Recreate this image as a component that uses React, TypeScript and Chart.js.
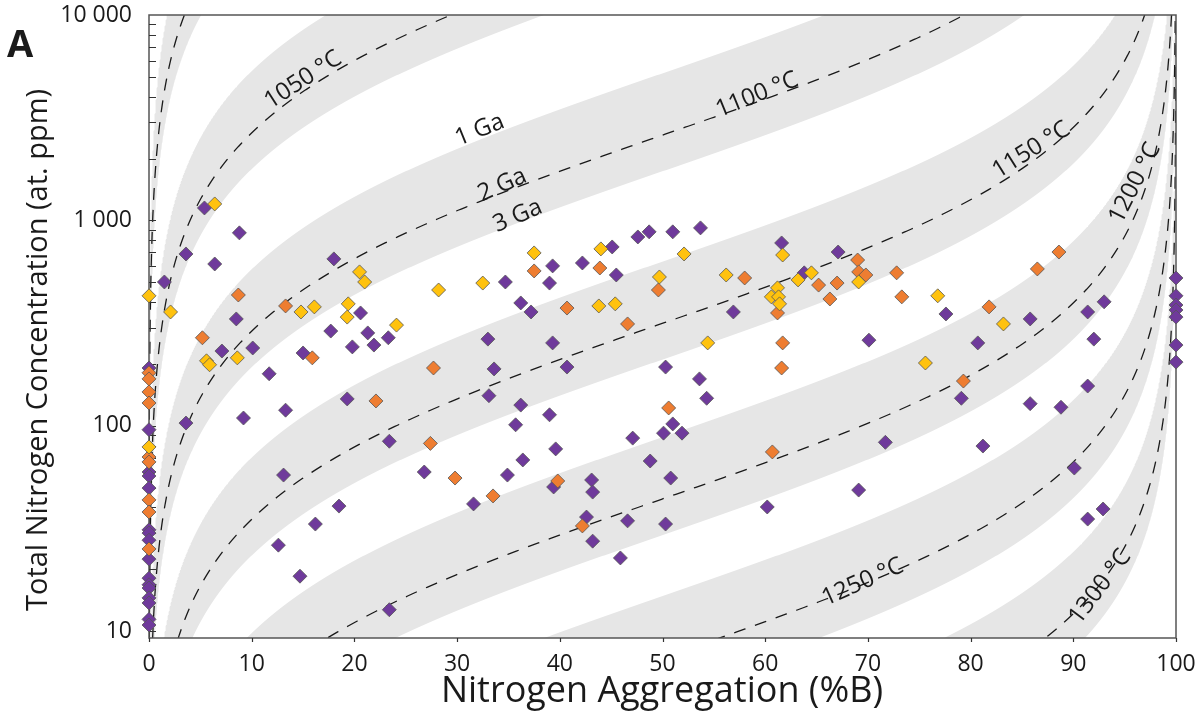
import React, { useEffect, useRef } from "react";
import { Chart, registerables } from "chart.js";

Chart.register(...registerables);

const W = 1196;
const H = 723;
const FONT = "'Open Sans', 'DejaVu Sans', sans-serif";
const INK = "#1a1a1a";

// ---- axes ----
const xTicks = [0, 10, 20, 30, 40, 50, 60, 70, 80, 90, 100];
const yTicks = [10, 100, 1000, 10000];
const yTickLabels = ["10", "100", "1 000", "10 000"];
const yMin = 9.25;
const yMax = 10000;
const xTitle = "Nitrogen Aggregation (%B)";
const yTitle = "Total Nitrogen Concentration (at. ppm)";
const panelLetter = "A";

// ---- isotherms (second-order aggregation law: N = N50 * B/(1-B), N50 scales with 1/age) ----
const isothermTemps = [1000, 1050, 1100, 1150, 1200, 1250, 1300];
const isothermN50At2Ga = [280000, 24000, 2600, 315, 44, 7.4, 1.35];
const curveAge = 2; // Ga, dashed line
const bandUpperAge = 1; // Ga
const bandLowerAge = 3; // Ga

// ---- diamonds: [%B, N at. ppm] ----
const purplePoints: [number, number][] = [
  [0, 191], [0, 95.6], [0, 59.5], [0, 56.9], [0, 49.7], [0, 31.1], [0, 30.0], [0, 27.7],
  [0, 22.4], [0, 18.1], [0, 16.8], [0, 16.2], [0, 14.5], [0, 13.7], [0, 11.4], [0, 10.7],
  [100, 524], [100, 429], [100, 387], [100, 366], [100, 338], [100, 247], [100, 204],
  [5.4, 1149], [8.8, 869], [3.6, 686], [6.4, 613], [1.5, 501], [8.5, 331], [7.1, 231],
  [17.7, 289], [10.1, 239], [15.0, 226], [11.7, 179], [13.3, 119], [9.2, 109], [3.6, 103],
  [13.1, 57.5], [18.5, 40.6], [16.2, 33.2], [12.6, 26.2], [14.7, 18.5],
  [18.0, 649], [20.6, 354], [21.3, 283], [23.3, 268], [21.9, 247], [19.8, 242], [19.3, 135],
  [34.7, 501], [39.3, 600], [39.0, 495], [36.2, 396], [37.2, 358], [33.0, 264], [39.3, 253],
  [33.6, 189], [33.1, 140], [36.2, 126],
  [23.4, 84], [26.8, 59.5], [31.6, 41.6], [34.9, 57.5], [36.4, 68.1], [39.6, 77.1], [39.4, 50.3],
  [35.7, 101], [39.0, 113], [23.4, 12.7],
  [42.2, 620], [45.1, 742], [45.5, 542], [47.6, 830], [48.7, 879], [51.0, 879], [53.7, 919],
  [56.9, 358], [40.7, 193], [50.3, 193], [53.6, 169], [54.3, 136],
  [61.6, 776], [63.8, 555], [67.1, 701], [70.1, 261],
  [51.0, 102], [50.1, 92], [51.9, 92], [47.1, 87], [48.8, 67.3], [43.1, 54.4], [43.2, 47.5],
  [50.8, 55.6], [42.6, 35.9], [46.6, 34.4], [50.3, 33.2], [43.2, 27.4], [45.9, 22.7],
  [60.2, 40.2], [69.1, 48.6],
  [77.6, 350], [85.8, 331], [91.4, 358], [93.0, 401], [80.7, 253], [92.0, 264], [79.1, 136],
  [91.4, 156], [85.8, 128], [88.8, 123], [71.7, 83], [81.2, 79.6], [90.1, 62.2], [92.9, 39.3],
  [91.4, 35.1],
];

const orangePoints: [number, number][] = [
  [0, 181], [0, 169], [0, 146], [0, 129], [0, 70.4], [0, 66.6], [0, 43.5], [0, 38.0], [0, 25.1],
  [8.7, 433], [13.3, 383], [5.2, 268], [15.9, 214], [22.1, 132], [37.5, 567], [27.7, 191],
  [27.4, 82], [29.8, 55.6], [33.5, 45.5], [39.8, 53.8], [43.9, 586], [49.6, 458], [40.7, 374],
  [46.6, 313], [58.0, 524], [50.6, 122], [61.2, 354], [65.2, 484], [66.3, 414], [67.0, 495],
  [69.0, 641], [69.1, 561], [69.8, 542], [61.7, 253], [61.6, 191], [42.2, 32.5], [60.7, 74.5],
  [72.8, 555], [73.3, 424], [88.6, 701], [86.5, 580], [81.8, 379], [79.3, 165],
];

const yellowPoints: [number, number][] = [
  [0, 429], [0, 78.8], [6.4, 1202], [2.1, 358], [14.8, 358], [16.1, 379], [5.6, 207], [5.9, 198],
  [8.6, 214], [20.5, 561], [21.0, 501], [19.4, 392], [19.3, 338], [24.1, 309], [28.2, 458],
  [32.5, 495], [37.5, 694], [44.0, 726], [52.1, 686], [49.7, 530], [43.8, 383], [45.4, 392],
  [56.2, 542], [54.4, 253], [61.7, 678], [61.2, 469], [60.6, 424], [61.3, 424], [61.4, 392],
  [64.5, 555], [63.2, 513], [69.1, 501], [76.8, 429], [83.2, 313], [75.6, 202],
];

// ---- annotations along the curves: text, %B, N, rotation (deg) ----
const curveLabelTexts = ["1050 °C", "1100 °C", "1150 °C", "1200 °C", "1250 °C", "1300 °C", "1 Ga", "2 Ga", "3 Ga"];
const curveLabelX = [15.0, 59.2, 85.9, 96.0, 69.5, 92.6, 32.2, 34.4, 35.9];
const curveLabelY = [4830, 4080, 2200, 1520, 17.3, 16.4, 2750, 1486, 1050];
const curveLabelAngle = [-33, -22, -32, -63, -24, -53, -22, -24, -23];

const COLORS = {
  purple: "#6f3a9b",
  orange: "#ee7d31",
  yellow: "#ffc20e",
  band: "#e6e6e6",
  dash: "#1a1a1a",
  frame: "#555555",
  pointBorder: "#555555",
};

function isotherm(n50: number) {
  const pts: { x: number; y: number }[] = [];
  const lo = 0.85;
  const hi = 4.25;
  const steps = 700;
  for (let i = 0; i <= steps; i++) {
    const n = Math.pow(10, lo + ((hi - lo) * i) / steps);
    pts.push({ x: (100 * n) / (n + n50), y: n });
  }
  return pts;
}

function buildDatasets() {
  const ds: any[] = [];
  isothermTemps.forEach((t, i) => {
    const n50 = isothermN50At2Ga[i];
    const upper = isotherm((n50 * curveAge) / bandUpperAge);
    const lower = isotherm((n50 * curveAge) / bandLowerAge).reverse();
    ds.push({
      label: `band ${t}`,
      data: upper.concat(lower),
      showLine: true,
      fill: "shape",
      backgroundColor: COLORS.band,
      borderWidth: 0,
      borderColor: "rgba(0,0,0,0)",
      pointRadius: 0,
      pointHoverRadius: 0,
      tension: 0,
      order: 10,
    });
  });
  isothermTemps.forEach((t, i) => {
    ds.push({
      label: `curve ${t}`,
      data: isotherm(isothermN50At2Ga[i]),
      showLine: true,
      fill: false,
      borderColor: COLORS.dash,
      borderWidth: 1.3,
      borderDash: [12, 10],
      pointRadius: 0,
      pointHoverRadius: 0,
      tension: 0,
      order: 5,
    });
  });
  const pts = (arr: [number, number][]) => arr.map(([x, y]) => ({ x, y }));
  const marker = (label: string, data: [number, number][], color: string, order: number) => ({
    label,
    data: pts(data),
    showLine: false,
    pointStyle: "rectRot",
    pointRadius: 7,
    pointHoverRadius: 7,
    pointBackgroundColor: color,
    pointBorderColor: COLORS.pointBorder,
    pointBorderWidth: 0.8,
    clip: false,
    order,
  });
  ds.push(marker("purple", purplePoints, COLORS.purple, 3));
  ds.push(marker("orange", orangePoints, COLORS.orange, 2));
  ds.push(marker("yellow", yellowPoints, COLORS.yellow, 1));
  return ds;
}

function drawFrameAndLabels(chart: any) {
  const { ctx, chartArea, scales } = chart;
  const { left, right, top, bottom } = chartArea;
  const xs = scales.x;
  const ys = scales.y;
  ctx.save();
  // curve labels
  ctx.fillStyle = INK;
  ctx.font = `24px ${FONT}`;
  ctx.textAlign = "center";
  ctx.textBaseline = "middle";
  curveLabelTexts.forEach((txt, i) => {
    const px = xs.getPixelForValue(curveLabelX[i]);
    const py = ys.getPixelForValue(curveLabelY[i]);
    ctx.save();
    ctx.translate(px, py);
    ctx.rotate((curveLabelAngle[i] * Math.PI) / 180);
    ctx.fillText(txt, 0, 0);
    ctx.restore();
  });
  // frame
  ctx.strokeStyle = COLORS.frame;
  ctx.lineWidth = 1.5;
  ctx.strokeRect(left, top, right - left, bottom - top);
  // inward y ticks, outward x ticks
  ctx.lineWidth = 1.2;
  ctx.strokeStyle = "#333";
  ctx.beginPath();
  for (let d = 10; d <= 1000; d *= 10) {
    for (let m = 1; m <= 9; m++) {
      const v = m * d;
      if (v < yMin) continue;
      const py = Math.round(ys.getPixelForValue(v)) + 0.5;
      ctx.moveTo(left, py);
      ctx.lineTo(left + 7, py);
    }
  }
  for (const v of xTicks) {
    const px = Math.round(xs.getPixelForValue(v)) + 0.5;
    ctx.moveTo(px, bottom);
    ctx.lineTo(px, bottom + 4);
  }
  ctx.stroke();
  ctx.restore();
}

const overlayPlugin = {
  id: "overlay",
  beforeDatasetDraw(chart: any, args: any) {
    const ds = chart.data.datasets[args.index];
    if (ds && ds.label === "purple") drawFrameAndLabels(chart);
  },
  afterDraw(chart: any) {
    const { ctx } = chart;
    ctx.save();
    ctx.fillStyle = INK;
    ctx.textAlign = "center";
    ctx.textBaseline = "middle";
    ctx.font = `36px ${FONT}`;
    ctx.fillText(xTitle, 662, 692);
    ctx.font = `29px ${FONT}`;
    ctx.save();
    ctx.translate(39, 350);
    ctx.rotate(-Math.PI / 2);
    ctx.fillText(yTitle, 0, 0);
    ctx.restore();
    ctx.font = `bold 38px ${FONT}`;
    ctx.fillText(panelLetter, 20, 46);
    ctx.restore();
  },
};

export default function App() {
  const ref = useRef<HTMLCanvasElement>(null);
  useEffect(() => {
    if (!ref.current) return;
    const chart = new Chart(ref.current, {
      type: "scatter",
      data: { datasets: buildDatasets() },
      options: {
        animation: false,
        responsive: false,
        devicePixelRatio: 1,
        events: [],
        layout: { padding: { left: 0, right: 20, top: 15, bottom: 0 } },
        plugins: { legend: { display: false }, tooltip: { enabled: false } },
        scales: {
          x: {
            type: "linear",
            min: 0,
            max: 100,
            afterBuildTicks: (s: any) => {
              s.ticks = xTicks.map((v) => ({ value: v }));
            },
            afterFit: (s: any) => {
              s.height = H - 638;
              s.paddingLeft = 0;
              s.paddingRight = 0;
            },
            ticks: {
              autoSkip: false,
              maxRotation: 0,
              padding: 13,
              color: INK,
              font: { family: FONT, size: 23 },
              callback: (v: any) => String(v),
            },
            grid: { display: false, drawTicks: false },
            border: { display: false },
          },
          y: {
            type: "logarithmic",
            min: yMin,
            max: yMax,
            afterBuildTicks: (s: any) => {
              s.ticks = yTicks.map((v) => ({ value: v }));
            },
            afterFit: (s: any) => {
              s.width = 149;
              s.paddingTop = 0;
              s.paddingBottom = 0;
            },
            ticks: {
              autoSkip: false,
              padding: 17,
              color: INK,
              font: { family: FONT, size: 23 },
              callback: (_v: any, i: number) => yTickLabels[i],
            },
            grid: { display: false, drawTicks: false },
            border: { display: false },
          },
        },
      },
      plugins: [overlayPlugin],
    } as any);
    return () => chart.destroy();
  }, []);
  return (
    <div style={{ position: "fixed", left: 0, top: 0, width: W, height: H, background: "#fff" }}>
      <canvas ref={ref} width={W} height={H} style={{ display: "block", width: W, height: H }} />
    </div>
  );
}
